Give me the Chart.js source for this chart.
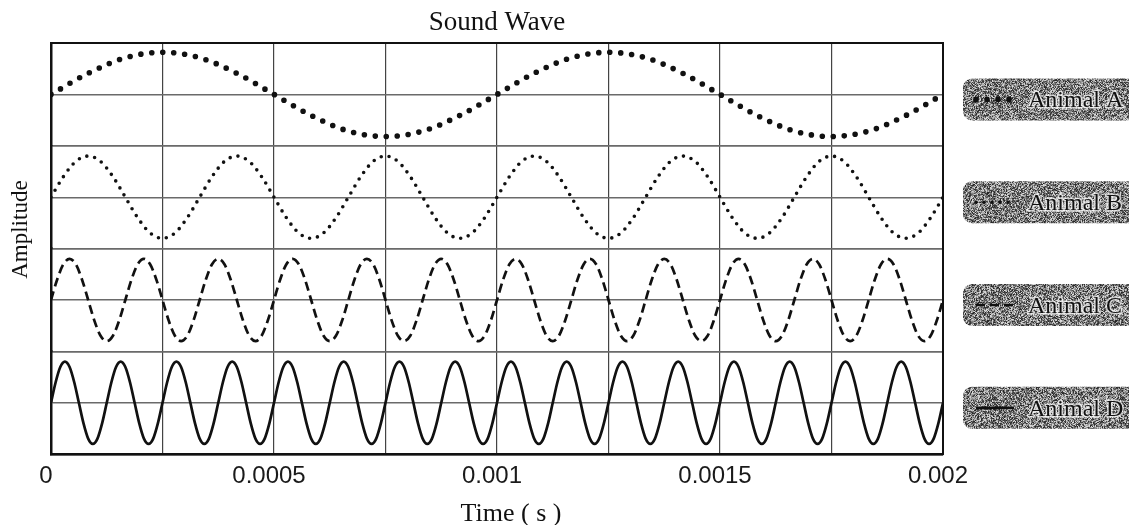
<!DOCTYPE html>
<html>
<head>
<meta charset="utf-8">
<script src="https://cdn.jsdelivr.net/npm/chart.js@4.4.1/dist/chart.umd.min.js"></script>
<style>
  html, body { margin: 0; padding: 0; background: #ffffff; }
  #wrap { position: relative; width: 1129px; height: 525px; }
</style>
</head>
<body>
<div id="wrap"><canvas id="c"></canvas></div>
<script>
// ---------------- data ----------------
const chartTitle = 'Sound Wave';
const xAxisTitle = 'Time ( s )';
const yAxisTitle = 'Amplitude';
const animals = ['Animal A', 'Animal B', 'Animal C', 'Animal D'];
// cycles seen in 0.002 s: A 2, B 6, C 12, D 16
const frequenciesHz = [1000, 3000, 6000, 8000];
// peak height of each wave relative to its half-panel
const peakAmplitudes = [0.82, 0.8, 0.8, 0.8];
// shape of one cycle, read at every 30 degrees
const cycleShape = [0, 0.5, 0.87, 1, 0.87, 0.5, 0, -0.5, -0.87, -1, -0.87, -0.5];
const timeTicks = [0, 0.00025, 0.0005, 0.00075, 0.001, 0.00125, 0.0015, 0.00175, 0.002];
const timeTickLabels = ['0', '', '0.0005', '', '0.001', '', '0.0015', '', '0.002'];
const timeMax = 0.002;

// ---------------- styles ----------------
const INK = '#111111';
const SERIF = '"Liberation Serif", "Times New Roman", Times, serif';
const SANS = '"Liberation Sans", Arial, Helvetica, sans-serif';
const lineStyles = [
  { borderWidth: 5.6, borderDash: [0, 11], borderCapStyle: 'round' },
  { borderWidth: 3.6, borderDash: [0, 8], borderCapStyle: 'round' },
  { borderWidth: 2.7, borderDash: [9, 5], borderCapStyle: 'butt' },
  { borderWidth: 2.7, borderDash: [], borderCapStyle: 'butt' }
];
const panelIds = ['yA', 'yB', 'yC', 'yD'];

// table for the library: repeat the cycle shape at each frequency
function buildWave(i) {
  const f = frequenciesHz[i];
  const n = cycleShape.length;
  const steps = Math.round(timeMax * f * n);
  const pts = [];
  for (let k = 0; k <= steps; k++) {
    pts.push({ x: k / (f * n), y: peakAmplitudes[i] * cycleShape[k % n] });
  }
  return pts;
}

// speckled grey texture for the legend plates
function makeNoisePattern(ctx) {
  const c = document.createElement('canvas');
  c.width = 128; c.height = 64;
  const g = c.getContext('2d');
  const img = g.createImageData(c.width, c.height);
  let seed = 987654321;
  const rnd = () => { seed = (seed * 1103515245 + 12345) & 0x7fffffff; return seed / 0x7fffffff; };
  for (let p = 0; p < img.data.length; p += 4) {
    const v = Math.round(35 + 190 * Math.pow(rnd(), 1.05));
    img.data[p] = img.data[p + 1] = img.data[p + 2] = v;
    img.data[p + 3] = 255;
  }
  g.putImageData(img, 0, 0);
  return ctx.createPattern(c, 'repeat');
}

const textPlugin = {
  id: 'textAndLegend',
  afterDraw(chart) {
    const ctx = chart.ctx;
    const a = chart.chartArea;
    ctx.save();
    ctx.fillStyle = INK;
    ctx.textBaseline = 'alphabetic';
    ctx.textAlign = 'center';
    // x-axis title
    ctx.font = '26px ' + SERIF;
    ctx.fillText(xAxisTitle, (a.left + a.right) / 2 + 14, 521);
    // y-axis title
    ctx.save();
    ctx.translate(27, (a.top + a.bottom) / 2 - 19);
    ctx.rotate(-Math.PI / 2);
    ctx.font = '23px ' + SERIF;
    ctx.fillText(yAxisTitle, 0, 0);
    ctx.restore();
    ctx.restore();

    // legend plates
    const pattern = makeNoisePattern(ctx);
    chart.data.datasets.forEach((ds) => {
      const sc = chart.scales[ds.yAxisID];
      const cy = sc.getPixelForValue(0) + 5;
      const bx = a.right + 20, by = cy - 21, bw = 220, bh = 42, r = 9;
      ctx.save();
      ctx.beginPath();
      ctx.moveTo(bx + r, by);
      ctx.lineTo(bx + bw - r, by);
      ctx.arcTo(bx + bw, by, bx + bw, by + r, r);
      ctx.lineTo(bx + bw, by + bh - r);
      ctx.arcTo(bx + bw, by + bh, bx + bw - r, by + bh, r);
      ctx.lineTo(bx + r, by + bh);
      ctx.arcTo(bx, by + bh, bx, by + bh - r, r);
      ctx.lineTo(bx, by + r);
      ctx.arcTo(bx, by, bx + r, by, r);
      ctx.closePath();
      ctx.fillStyle = pattern;
      ctx.fill();
      // line sample
      ctx.beginPath();
      ctx.setLineDash(ds.borderDash || []);
      ctx.lineWidth = ds.borderWidth;
      ctx.lineCap = ds.borderCapStyle;
      ctx.strokeStyle = ds.borderColor;
      ctx.moveTo(a.right + 33, cy);
      ctx.lineTo(a.right + 71, cy);
      ctx.stroke();
      // label
      ctx.setLineDash([]);
      ctx.font = '24px ' + SERIF;
      ctx.textAlign = 'left';
      ctx.textBaseline = 'alphabetic';
      ctx.lineJoin = 'round';
      ctx.lineWidth = 3;
      ctx.strokeStyle = 'rgba(255,255,255,0.7)';
      ctx.strokeText(ds.label, a.right + 85, cy + 8);
      ctx.fillStyle = INK;
      ctx.fillText(ds.label, a.right + 85, cy + 8);
      ctx.restore();
    });
  }
};

const scales = {
  x: {
    type: 'linear', position: 'bottom', min: 0, max: timeMax,
    afterBuildTicks: (s) => { s.ticks = timeTicks.map(v => ({ value: v })); },
    ticks: {
      autoSkip: false, maxRotation: 0, minRotation: 0, padding: 8, labelOffset: -5,
      color: '#1a1a1a', font: { family: SANS, size: 24 },
      callback: (v, idx) => timeTickLabels[idx]
    },
    grid: { color: '#444444', lineWidth: 1.2, drawTicks: false },
    border: { display: true, color: INK, width: 2.5 }
  },
  xT: {
    type: 'linear', position: 'top', min: 0, max: timeMax,
    ticks: { display: false },
    grid: { display: false, drawTicks: false },
    border: { display: true, color: INK, width: 2 }
  },
  yR: {
    type: 'linear', position: 'right', min: 0, max: 1,
    ticks: { display: false },
    grid: { display: false, drawTicks: false },
    border: { display: true, color: INK, width: 2 }
  }
};
panelIds.forEach((id, i) => {
  scales[id] = {
    type: 'linear', position: 'left', stack: 'panels', stackWeight: 1, weight: panelIds.length - i,
    min: -1, max: 1,
    ticks: { display: false, stepSize: 1 },
    grid: { color: '#6a6a6a', lineWidth: 1.4, drawTicks: false },
    border: { display: true, color: INK, width: 2.5 }
  };
});

new Chart(document.getElementById('c'), {
  type: 'line',
  data: {
    datasets: animals.map((name, i) => Object.assign({
      label: name,
      data: buildWave(i),
      xAxisID: 'x',
      yAxisID: panelIds[i],
      borderColor: INK,
      backgroundColor: INK,
      fill: false,
      pointRadius: 0,
      borderJoinStyle: 'round',
      cubicInterpolationMode: 'monotone'
    }, lineStyles[i]))
  },
  options: {
    responsive: true,
    maintainAspectRatio: false,
    devicePixelRatio: 1,
    animation: false,
    events: [],
    layout: { padding: { left: 51, right: 186, top: 0, bottom: 26 } },
    scales: scales,
    plugins: {
      legend: { display: false },
      tooltip: { enabled: false },
      title: {
        display: true, text: chartTitle, fullSize: false, color: INK,
        font: { family: SERIF, size: 27, weight: 'normal' },
        padding: { top: 6.8, bottom: 3.8 }
      }
    }
  },
  plugins: [textPlugin]
});
</script>
</body>
</html>
